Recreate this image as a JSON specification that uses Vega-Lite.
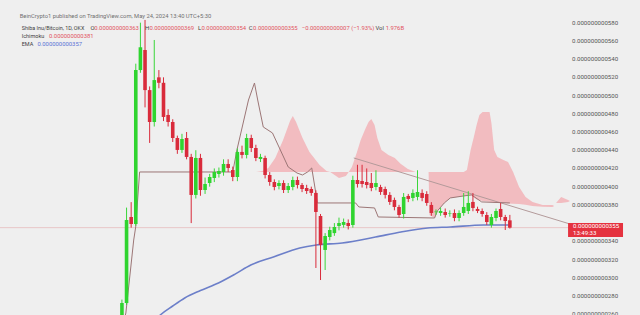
{
  "$schema": "https://vega.github.io/schema/vega-lite/v6.json",
  "width": 575,
  "height": 315,
  "padding": {"left": 0, "top": 0, "right": 65, "bottom": 0},
  "autosize": {"type": "none"},
  "background": "#efefef",
  "config": {"view": {"stroke": null}, "font": "Roboto"},
  "datasets": {
    "candles": [
      {"t":0,"o":250e-12,"h":276e-12,"l":240e-12,"c":272.3e-12},
      {"t":1,"o":272.3e-12,"h":377e-12,"l":270e-12,"c":363.4e-12},
      {"t":2,"o":366.7e-12,"h":383e-12,"l":355e-12,"c":359e-12},
      {"t":3,"o":359e-12,"h":535e-12,"l":357e-12,"c":528e-12},
      {"t":4,"o":528e-12,"h":580e-12,"l":525e-12,"c":553e-12},
      {"t":5,"o":550e-12,"h":583e-12,"l":487e-12,"c":506e-12},
      {"t":6,"o":506e-12,"h":510e-12,"l":448e-12,"c":471e-12},
      {"t":7,"o":471e-12,"h":561e-12,"l":466e-12,"c":517e-12},
      {"t":8,"o":520e-12,"h":528e-12,"l":508e-12,"c":514e-12},
      {"t":9,"o":514e-12,"h":520e-12,"l":472e-12,"c":476.5e-12},
      {"t":10,"o":478.7e-12,"h":485e-12,"l":466e-12,"c":471e-12},
      {"t":11,"o":471e-12,"h":474e-12,"l":449e-12,"c":453.4e-12},
      {"t":12,"o":453.4e-12,"h":456e-12,"l":436e-12,"c":440.3e-12},
      {"t":13,"o":440.3e-12,"h":458e-12,"l":437e-12,"c":452.3e-12},
      {"t":14,"o":453.4e-12,"h":460e-12,"l":430e-12,"c":432.6e-12},
      {"t":15,"o":432.6e-12,"h":436e-12,"l":360e-12,"c":390.9e-12},
      {"t":16,"o":390.9e-12,"h":440e-12,"l":387e-12,"c":431.5e-12},
      {"t":17,"o":431.5e-12,"h":436e-12,"l":390e-12,"c":396.3e-12},
      {"t":18,"o":396.3e-12,"h":410e-12,"l":392e-12,"c":402.9e-12},
      {"t":19,"o":404e-12,"h":414e-12,"l":400e-12,"c":410.6e-12},
      {"t":20,"o":409.5e-12,"h":420e-12,"l":405e-12,"c":416.1e-12},
      {"t":21,"o":413.9e-12,"h":421e-12,"l":410e-12,"c":417.2e-12},
      {"t":22,"o":416.1e-12,"h":430e-12,"l":412e-12,"c":424.9e-12},
      {"t":23,"o":424.9e-12,"h":430e-12,"l":416e-12,"c":420.5e-12},
      {"t":24,"o":418.3e-12,"h":422e-12,"l":406e-12,"c":410.6e-12},
      {"t":25,"o":410.6e-12,"h":442e-12,"l":406e-12,"c":438.1e-12},
      {"t":26,"o":438.1e-12,"h":445e-12,"l":431e-12,"c":434.8e-12},
      {"t":27,"o":434.8e-12,"h":458e-12,"l":431e-12,"c":453.4e-12},
      {"t":28,"o":453.4e-12,"h":457e-12,"l":438e-12,"c":442.4e-12},
      {"t":29,"o":442.4e-12,"h":446e-12,"l":428e-12,"c":431.5e-12},
      {"t":30,"o":430.4e-12,"h":436e-12,"l":427e-12,"c":432.6e-12},
      {"t":31,"o":431.5e-12,"h":434e-12,"l":409e-12,"c":412.8e-12},
      {"t":32,"o":412.8e-12,"h":416e-12,"l":401e-12,"c":405.1e-12},
      {"t":33,"o":405.1e-12,"h":408e-12,"l":396e-12,"c":399.6e-12},
      {"t":34,"o":400.7e-12,"h":407e-12,"l":397e-12,"c":404e-12},
      {"t":35,"o":404e-12,"h":407e-12,"l":393e-12,"c":396.3e-12},
      {"t":36,"o":396.3e-12,"h":404e-12,"l":393e-12,"c":400.7e-12},
      {"t":37,"o":399.6e-12,"h":411e-12,"l":396e-12,"c":407.3e-12},
      {"t":38,"o":407.3e-12,"h":411e-12,"l":398e-12,"c":401.8e-12},
      {"t":39,"o":401.8e-12,"h":404e-12,"l":394e-12,"c":397.4e-12},
      {"t":40,"o":398.5e-12,"h":402e-12,"l":392e-12,"c":395.2e-12},
      {"t":41,"o":397.4e-12,"h":400e-12,"l":390e-12,"c":393.1e-12},
      {"t":42,"o":393.1e-12,"h":396e-12,"l":310.7e-12,"c":372.2e-12},
      {"t":43,"o":367.8e-12,"h":370e-12,"l":297.5e-12,"c":336e-12},
      {"t":44,"o":330.5e-12,"h":349e-12,"l":308.5e-12,"c":345.8e-12},
      {"t":45,"o":344.7e-12,"h":356e-12,"l":341e-12,"c":352.4e-12},
      {"t":46,"o":349e-12,"h":360e-12,"l":346e-12,"c":355.7e-12},
      {"t":47,"o":356.8e-12,"h":366e-12,"l":352e-12,"c":360.1e-12},
      {"t":48,"o":358e-12,"h":365e-12,"l":355e-12,"c":361.2e-12},
      {"t":49,"o":360.1e-12,"h":364e-12,"l":353e-12,"c":356.8e-12},
      {"t":50,"o":357.9e-12,"h":412e-12,"l":355e-12,"c":407.3e-12},
      {"t":51,"o":407.3e-12,"h":424e-12,"l":399e-12,"c":402.9e-12},
      {"t":52,"o":406.2e-12,"h":424e-12,"l":399e-12,"c":402.9e-12},
      {"t":53,"o":405.1e-12,"h":420e-12,"l":398e-12,"c":401.8e-12},
      {"t":54,"o":404e-12,"h":415e-12,"l":395e-12,"c":398.5e-12},
      {"t":55,"o":399.6e-12,"h":418e-12,"l":396e-12,"c":404e-12},
      {"t":56,"o":399.6e-12,"h":402e-12,"l":391e-12,"c":394.1e-12},
      {"t":57,"o":397.4e-12,"h":400e-12,"l":387e-12,"c":390.9e-12},
      {"t":58,"o":390.9e-12,"h":394e-12,"l":380e-12,"c":383.2e-12},
      {"t":59,"o":385.4e-12,"h":388e-12,"l":374e-12,"c":377.7e-12},
      {"t":60,"o":377.7e-12,"h":380e-12,"l":366e-12,"c":368.9e-12},
      {"t":61,"o":370e-12,"h":393e-12,"l":365e-12,"c":388.7e-12},
      {"t":62,"o":389.8e-12,"h":392e-12,"l":383e-12,"c":386.5e-12},
      {"t":63,"o":387.6e-12,"h":397e-12,"l":384e-12,"c":393.1e-12},
      {"t":64,"o":388.7e-12,"h":418e-12,"l":385e-12,"c":394.1e-12},
      {"t":65,"o":393.1e-12,"h":397e-12,"l":384e-12,"c":387.6e-12},
      {"t":66,"o":391.9e-12,"h":395e-12,"l":379e-12,"c":382.1e-12},
      {"t":67,"o":379.9e-12,"h":383e-12,"l":368e-12,"c":371.1e-12},
      {"t":68,"o":372e-12,"h":375e-12,"l":369e-12,"c":372.6e-12},
      {"t":69,"o":371.1e-12,"h":377e-12,"l":368e-12,"c":373.3e-12},
      {"t":70,"o":372.2e-12,"h":376e-12,"l":366e-12,"c":368.9e-12},
      {"t":71,"o":370.5e-12,"h":374e-12,"l":367e-12,"c":371.1e-12},
      {"t":72,"o":371.1e-12,"h":375e-12,"l":362e-12,"c":365.6e-12},
      {"t":73,"o":365.6e-12,"h":374e-12,"l":362e-12,"c":371.1e-12},
      {"t":74,"o":371.1e-12,"h":393e-12,"l":368e-12,"c":377.7e-12},
      {"t":75,"o":373.3e-12,"h":395e-12,"l":370e-12,"c":382.1e-12},
      {"t":76,"o":383.2e-12,"h":393e-12,"l":373e-12,"c":376.6e-12},
      {"t":77,"o":375.5e-12,"h":378e-12,"l":371e-12,"c":373.3e-12},
      {"t":78,"o":373.3e-12,"h":376e-12,"l":367e-12,"c":370e-12},
      {"t":79,"o":368.9e-12,"h":372e-12,"l":358e-12,"c":361.2e-12},
      {"t":80,"o":357.9e-12,"h":370e-12,"l":355e-12,"c":366.7e-12},
      {"t":81,"o":365.6e-12,"h":376e-12,"l":362e-12,"c":373.3e-12},
      {"t":82,"o":375.5e-12,"h":382e-12,"l":363e-12,"c":366.7e-12},
      {"t":83,"o":366.7e-12,"h":369e-12,"l":352.4e-12,"c":362.3e-12},
      {"t":84,"o":363e-12,"h":369e-12,"l":354e-12,"c":355e-12}
    ],
    "cloud": [
      {"t":29.1,"top":416.1e-12,"bottom":416.1e-12},
      {"t":30.4,"top":417.2e-12,"bottom":416.1e-12},
      {"t":31.7,"top":420.5e-12,"bottom":416.1e-12},
      {"t":33.2,"top":431.5e-12,"bottom":416.1e-12},
      {"t":34.9,"top":451.2e-12,"bottom":416.1e-12},
      {"t":36.4,"top":472.1e-12,"bottom":416.1e-12},
      {"t":37.0,"top":477.6e-12,"bottom":416.1e-12},
      {"t":37.7,"top":471.0e-12,"bottom":416.1e-12},
      {"t":39.1,"top":453.4e-12,"bottom":416.1e-12},
      {"t":40.6,"top":438.1e-12,"bottom":416.1e-12},
      {"t":42.8,"top":423.8e-12,"bottom":416.1e-12},
      {"t":44.3,"top":417.2e-12,"bottom":416.1e-12},
      {"t":45.1,"top":416.1e-12,"bottom":416.1e-12},
      {"t":47.0,"top":416.1e-12,"bottom":409.5e-12},
      {"t":48.5,"top":416.1e-12,"bottom":411.7e-12},
      {"t":49.1,"top":416.1e-12,"bottom":416.1e-12},
      {"t":49.8,"top":421.6e-12,"bottom":416.1e-12},
      {"t":50.9,"top":438.1e-12,"bottom":416.1e-12},
      {"t":51.7,"top":451.2e-12,"bottom":416.1e-12},
      {"t":52.6,"top":462.2e-12,"bottom":416.1e-12},
      {"t":53.4,"top":471.0e-12,"bottom":416.1e-12},
      {"t":54.0,"top":474.3e-12,"bottom":416.1e-12},
      {"t":54.7,"top":467.7e-12,"bottom":416.1e-12},
      {"t":55.3,"top":453.4e-12,"bottom":416.1e-12},
      {"t":56.2,"top":440.3e-12,"bottom":416.1e-12},
      {"t":57.7,"top":434.8e-12,"bottom":416.1e-12},
      {"t":59.1,"top":431.5e-12,"bottom":416.1e-12},
      {"t":60.4,"top":424.9e-12,"bottom":416.1e-12},
      {"t":61.9,"top":419.4e-12,"bottom":416.1e-12},
      {"t":63.6,"top":416.1e-12,"bottom":416.1e-12},
      {"t":66.4,"top":416.1e-12,"bottom":416.1e-12},
      {"t":66.6,"top":416.1e-12,"bottom":368.9e-12},
      {"t":67.7,"top":416.1e-12,"bottom":365.6e-12},
      {"t":68.3,"top":416.1e-12,"bottom":373.3e-12},
      {"t":69.8,"top":416.1e-12,"bottom":382.1e-12},
      {"t":71.1,"top":416.1e-12,"bottom":387.6e-12},
      {"t":74.0,"top":416.1e-12,"bottom":389.8e-12},
      {"t":74.7,"top":418.3e-12,"bottom":390.5e-12},
      {"t":75.5,"top":440.3e-12,"bottom":390.9e-12},
      {"t":76.2,"top":454.5e-12,"bottom":388e-12},
      {"t":76.8,"top":467.7e-12,"bottom":386e-12},
      {"t":77.4,"top":478.7e-12,"bottom":385e-12},
      {"t":78.1,"top":482.0e-12,"bottom":384.3e-12},
      {"t":79.6,"top":482.0e-12,"bottom":383.5e-12},
      {"t":80.0,"top":469.9e-12,"bottom":383.2e-12},
      {"t":80.6,"top":440.3e-12,"bottom":382.5e-12},
      {"t":81.3,"top":432.6e-12,"bottom":382.1e-12},
      {"t":82.6,"top":429.3e-12,"bottom":382.1e-12},
      {"t":83.6,"top":427.1e-12,"bottom":381.5e-12},
      {"t":84.7,"top":416.1e-12,"bottom":381.3e-12},
      {"t":86.0,"top":399.6e-12,"bottom":381.0e-12},
      {"t":87.4,"top":388.7e-12,"bottom":380e-12},
      {"t":88.9,"top":383.2e-12,"bottom":378.8e-12},
      {"t":91.1,"top":379.9e-12,"bottom":378e-12},
      {"t":93.2,"top":379.9e-12,"bottom":377.7e-12},
      {"t":93.6,"top":378.8e-12,"bottom":378.8e-12},
      {"t":94.0,"top":382.1e-12,"bottom":382.1e-12},
      {"t":95.1,"top":388.7e-12,"bottom":382.1e-12},
      {"t":96.6,"top":385.4e-12,"bottom":383.2e-12},
      {"t":97.0,"top":384.3e-12,"bottom":384.3e-12}
    ],
    "kijun": [
      {"t":0.3,"v":250e-12},
      {"t":0.85,"v":261.3e-12},
      {"t":2.55,"v":341.4e-12},
      {"t":2.98,"v":355.7e-12},
      {"t":3.83,"v":416.1e-12},
      {"t":24.0,"v":416.1e-12},
      {"t":24.9,"v":440.3e-12},
      {"t":27.4,"v":495.1e-12},
      {"t":28.7,"v":513.8e-12},
      {"t":29.4,"v":495.1e-12},
      {"t":30.6,"v":465.5e-12},
      {"t":32.6,"v":458.9e-12},
      {"t":34.3,"v":440.3e-12},
      {"t":36.0,"v":421.6e-12},
      {"t":37.9,"v":415.0e-12},
      {"t":39.1,"v":412.8e-12},
      {"t":40.2,"v":416.1e-12},
      {"t":41.1,"v":420.5e-12},
      {"t":41.7,"v":401.8e-12},
      {"t":42.3,"v":382.1e-12},
      {"t":50.6,"v":382.1e-12},
      {"t":51.3,"v":377.7e-12},
      {"t":54.7,"v":376.6e-12},
      {"t":55.5,"v":366.7e-12},
      {"t":67.7,"v":365.6e-12},
      {"t":68.3,"v":373.3e-12},
      {"t":69.8,"v":382.1e-12},
      {"t":71.1,"v":387.6e-12},
      {"t":74.0,"v":389.8e-12},
      {"t":75.7,"v":390.9e-12},
      {"t":77.9,"v":383.2e-12},
      {"t":84.0,"v":382.1e-12}
    ],
    "ema": [
      {"t":5.5,"v":242.7e-12},
      {"t":8.3,"v":259.1e-12},
      {"t":11.0,"v":269e-12},
      {"t":13.6,"v":277.8e-12},
      {"t":17.0,"v":286e-12},
      {"t":20.9,"v":294.3e-12},
      {"t":24.5,"v":304e-12},
      {"t":27.9,"v":314.0e-12},
      {"t":32.8,"v":322.8e-12},
      {"t":38.5,"v":332.7e-12},
      {"t":42.1,"v":336.0e-12},
      {"t":47.7,"v":338.2e-12},
      {"t":54.9,"v":344.7e-12},
      {"t":60.4,"v":350.2e-12},
      {"t":66.2,"v":354.6e-12},
      {"t":71.1,"v":355.7e-12},
      {"t":78.3,"v":357.9e-12},
      {"t":84.0,"v":357.9e-12}
    ],
    "trend": [
      {"t":50.2,"v":431.5e-12},
      {"t":97.0,"v":359.0e-12}
    ],
    "price": [
      {"p":355e-12}
    ],
    "scaleticks": [
      {"v":260e-12},{"v":280e-12},{"v":300e-12},{"v":320e-12},{"v":340e-12},
      {"v":380e-12},{"v":400e-12},{"v":420e-12},{"v":440e-12},{"v":460e-12},
      {"v":480e-12},{"v":500e-12},{"v":520e-12},{"v":540e-12},{"v":560e-12},{"v":580e-12}
    ]
  },
  "layer": [
    {
      "data": {"name": "cloud"},
      "mark": {"type": "area", "color": "#f2a7ad", "opacity": 0.72, "clip": true},
      "encoding": {
        "x": {"field": "t", "type": "quantitative", "scale": {"domain": [-25.32, 97.02], "nice": false, "zero": false}, "axis": null},
        "y": {"field": "top", "type": "quantitative", "title": null,
          "scale": {"domain": [259.1e-12, 604.9e-12], "nice": false, "zero": false}, "axis": null},
        "y2": {"field": "bottom"}
      }
    },
    {
      "data": {"name": "price"},
      "mark": {"type": "rule", "color": "#e8c6c8", "strokeWidth": 1},
      "encoding": {"y": {"field": "p", "type": "quantitative", "title": null, "axis": null}}
    },
    {
      "data": {"name": "trend"},
      "mark": {"type": "line", "color": "#b39a9a", "strokeWidth": 1, "clip": true},
      "encoding": {
        "x": {"field": "t", "type": "quantitative", "axis": null},
        "y": {"field": "v", "type": "quantitative", "title": null, "axis": null}
      }
    },
    {
      "data": {"name": "kijun"},
      "mark": {"type": "line", "color": "#9c7676", "strokeWidth": 1, "clip": true},
      "encoding": {
        "x": {"field": "t", "type": "quantitative", "axis": null},
        "y": {"field": "v", "type": "quantitative", "title": null, "axis": null}
      }
    },
    {
      "data": {"name": "ema"},
      "mark": {"type": "line", "color": "#6c7fc9", "strokeWidth": 1.6, "clip": true, "interpolate": "monotone"},
      "encoding": {
        "x": {"field": "t", "type": "quantitative", "axis": null},
        "y": {"field": "v", "type": "quantitative", "title": null, "axis": null}
      }
    },
    {
      "data": {"name": "candles"},
      "mark": {"type": "rule", "strokeWidth": 1, "clip": true},
      "encoding": {
        "x": {"field": "t", "type": "quantitative", "axis": null},
        "y": {"field": "l", "type": "quantitative", "title": null, "axis": null},
        "y2": {"field": "h"},
        "color": {"condition": {"test": "datum.c >= datum.o", "value": "#3ad63a"}, "value": "#d92b3b"}
      }
    },
    {
      "data": {"name": "candles"},
      "mark": {"type": "bar", "width": 3.6, "clip": true},
      "encoding": {
        "x": {"field": "t", "type": "quantitative", "axis": null},
        "y": {"field": "o", "type": "quantitative", "title": null, "axis": null},
        "y2": {"field": "c"},
        "color": {"condition": {"test": "datum.c >= datum.o", "value": "#2fd42f"}, "value": "#d92b3b"}
      }
    },
    {
      "data": {"name": "scaleticks"},
      "mark": {"type": "text", "align": "left", "baseline": "middle", "fontSize": 6.1, "color": "#555555"},
      "encoding": {
        "text": {"field": "v", "type": "quantitative", "format": ".12f"},
        "x": {"datum": 97.45, "type": "quantitative", "axis": null},
        "y": {"field": "v", "type": "quantitative", "title": null, "axis": null}
      }
    },
    {
      "data": {"values": [{"s": "BeinCrypto1 published on TradingView.com, May 24, 2024 13:40 UTC+5:30"}]},
      "mark": {"type": "text", "align": "left", "baseline": "middle", "fontSize": 5.8, "color": "#707070"},
      "encoding": {"text": {"field": "s", "type": "nominal"}, "x": {"datum": -22.13, "type": "quantitative", "axis": null}, "y": {"datum": 587.3e-12, "type": "quantitative", "axis": null}}
    },
    {
      "data": {"values": [{"s": "Shiba Inu/Bitcoin, 1D, OKX"}]},
      "mark": {"type": "text", "align": "left", "baseline": "middle", "fontSize": 5.4, "color": "#3d3d3d"},
      "encoding": {"text": {"field": "s", "type": "nominal"}, "x": {"datum": -21.7, "type": "quantitative", "axis": null}, "y": {"datum": 574.2e-12, "type": "quantitative", "axis": null}}
    },
    {
      "data": {"values": [{"s": "O"}]},
      "mark": {"type": "text", "align": "left", "baseline": "middle", "fontSize": 5.9, "color": "#3d3d3d"},
      "encoding": {"text": {"field": "s", "type": "nominal"}, "x": {"datum": -6.8, "type": "quantitative", "axis": null}, "y": {"datum": 574.2e-12, "type": "quantitative", "axis": null}}
    },
    {
      "data": {"values": [{"s": "0.000000000363"}]},
      "mark": {"type": "text", "align": "left", "baseline": "middle", "fontSize": 5.9, "color": "#e2535e"},
      "encoding": {"text": {"field": "s", "type": "nominal"}, "x": {"datum": -6.0, "type": "quantitative", "axis": null}, "y": {"datum": 574.2e-12, "type": "quantitative", "axis": null}}
    },
    {
      "data": {"values": [{"s": "H"}]},
      "mark": {"type": "text", "align": "left", "baseline": "middle", "fontSize": 5.9, "color": "#3d3d3d"},
      "encoding": {"text": {"field": "s", "type": "nominal"}, "x": {"datum": 5.0, "type": "quantitative", "axis": null}, "y": {"datum": 574.2e-12, "type": "quantitative", "axis": null}}
    },
    {
      "data": {"values": [{"s": "0.000000000369"}]},
      "mark": {"type": "text", "align": "left", "baseline": "middle", "fontSize": 5.9, "color": "#e2535e"},
      "encoding": {"text": {"field": "s", "type": "nominal"}, "x": {"datum": 5.95, "type": "quantitative", "axis": null}, "y": {"datum": 574.2e-12, "type": "quantitative", "axis": null}}
    },
    {
      "data": {"values": [{"s": "L"}]},
      "mark": {"type": "text", "align": "left", "baseline": "middle", "fontSize": 5.9, "color": "#3d3d3d"},
      "encoding": {"text": {"field": "s", "type": "nominal"}, "x": {"datum": 16.49, "type": "quantitative", "axis": null}, "y": {"datum": 574.2e-12, "type": "quantitative", "axis": null}}
    },
    {
      "data": {"values": [{"s": "0.000000000354"}]},
      "mark": {"type": "text", "align": "left", "baseline": "middle", "fontSize": 5.9, "color": "#e2535e"},
      "encoding": {"text": {"field": "s", "type": "nominal"}, "x": {"datum": 17.23, "type": "quantitative", "axis": null}, "y": {"datum": 574.2e-12, "type": "quantitative", "axis": null}}
    },
    {
      "data": {"values": [{"s": "C"}]},
      "mark": {"type": "text", "align": "left", "baseline": "middle", "fontSize": 5.9, "color": "#3d3d3d"},
      "encoding": {"text": {"field": "s", "type": "nominal"}, "x": {"datum": 27.45, "type": "quantitative", "axis": null}, "y": {"datum": 574.2e-12, "type": "quantitative", "axis": null}}
    },
    {
      "data": {"values": [{"s": "0.000000000355"}]},
      "mark": {"type": "text", "align": "left", "baseline": "middle", "fontSize": 5.9, "color": "#e2535e"},
      "encoding": {"text": {"field": "s", "type": "nominal"}, "x": {"datum": 28.4, "type": "quantitative", "axis": null}, "y": {"datum": 574.2e-12, "type": "quantitative", "axis": null}}
    },
    {
      "data": {"values": [{"s": "−0.000000000007 (−1.93%)"}]},
      "mark": {"type": "text", "align": "left", "baseline": "middle", "fontSize": 5.9, "color": "#e2535e"},
      "encoding": {"text": {"field": "s", "type": "nominal"}, "x": {"datum": 38.94, "type": "quantitative", "axis": null}, "y": {"datum": 574.2e-12, "type": "quantitative", "axis": null}}
    },
    {
      "data": {"values": [{"s": "Vol"}]},
      "mark": {"type": "text", "align": "left", "baseline": "middle", "fontSize": 5.9, "color": "#3d3d3d"},
      "encoding": {"text": {"field": "s", "type": "nominal"}, "x": {"datum": 54.9, "type": "quantitative", "axis": null}, "y": {"datum": 574.2e-12, "type": "quantitative", "axis": null}}
    },
    {
      "data": {"values": [{"s": "1.976B"}]},
      "mark": {"type": "text", "align": "left", "baseline": "middle", "fontSize": 5.9, "color": "#e2535e"},
      "encoding": {"text": {"field": "s", "type": "nominal"}, "x": {"datum": 57.1, "type": "quantitative", "axis": null}, "y": {"datum": 574.2e-12, "type": "quantitative", "axis": null}}
    },
    {
      "data": {"values": [{"s": "Ichimoku"}]},
      "mark": {"type": "text", "align": "left", "baseline": "middle", "fontSize": 5.5, "color": "#3d3d3d"},
      "encoding": {"text": {"field": "s", "type": "nominal"}, "x": {"datum": -21.7, "type": "quantitative", "axis": null}, "y": {"datum": 565.4e-12, "type": "quantitative", "axis": null}}
    },
    {
      "data": {"values": [{"s": "0.000000000381"}]},
      "mark": {"type": "text", "align": "left", "baseline": "middle", "fontSize": 5.9, "color": "#e2535e"},
      "encoding": {"text": {"field": "s", "type": "nominal"}, "x": {"datum": -15.8, "type": "quantitative", "axis": null}, "y": {"datum": 565.4e-12, "type": "quantitative", "axis": null}}
    },
    {
      "data": {"values": [{"s": "EMA"}]},
      "mark": {"type": "text", "align": "left", "baseline": "middle", "fontSize": 5.5, "color": "#3d3d3d"},
      "encoding": {"text": {"field": "s", "type": "nominal"}, "x": {"datum": -21.7, "type": "quantitative", "axis": null}, "y": {"datum": 556.6e-12, "type": "quantitative", "axis": null}}
    },
    {
      "data": {"values": [{"s": "0.000000000357"}]},
      "mark": {"type": "text", "align": "left", "baseline": "middle", "fontSize": 5.9, "color": "#5b73d6"},
      "encoding": {"text": {"field": "s", "type": "nominal"}, "x": {"datum": -18.3, "type": "quantitative", "axis": null}, "y": {"datum": 556.6e-12, "type": "quantitative", "axis": null}}
    },
    {
      "data": {"values": [{"a": 96.6, "b": 108.5, "lo": 344.7e-12, "hi": 360.1e-12}]},
      "mark": {"type": "rect", "color": "#e5323f"},
      "encoding": {
        "x": {"field": "a", "type": "quantitative", "axis": null},
        "x2": {"field": "b"},
        "y": {"field": "lo", "type": "quantitative", "title": null, "axis": null},
        "y2": {"field": "hi"}
      }
    },
    {
      "data": {"values": [{"s": "0.000000000355"}]},
      "mark": {"type": "text", "align": "left", "baseline": "middle", "fontSize": 6.1, "color": "#ffffff"},
      "encoding": {"text": {"field": "s", "type": "nominal"}, "x": {"datum": 97.66, "type": "quantitative", "axis": null}, "y": {"datum": 356.3e-12, "type": "quantitative", "axis": null}}
    },
    {
      "data": {"values": [{"s": "13:49:33"}]},
      "mark": {"type": "text", "align": "left", "baseline": "middle", "fontSize": 6.1, "color": "#ffffff"},
      "encoding": {"text": {"field": "s", "type": "nominal"}, "x": {"datum": 97.66, "type": "quantitative", "axis": null}, "y": {"datum": 348.6e-12, "type": "quantitative", "axis": null}}
    }
  ]
}
